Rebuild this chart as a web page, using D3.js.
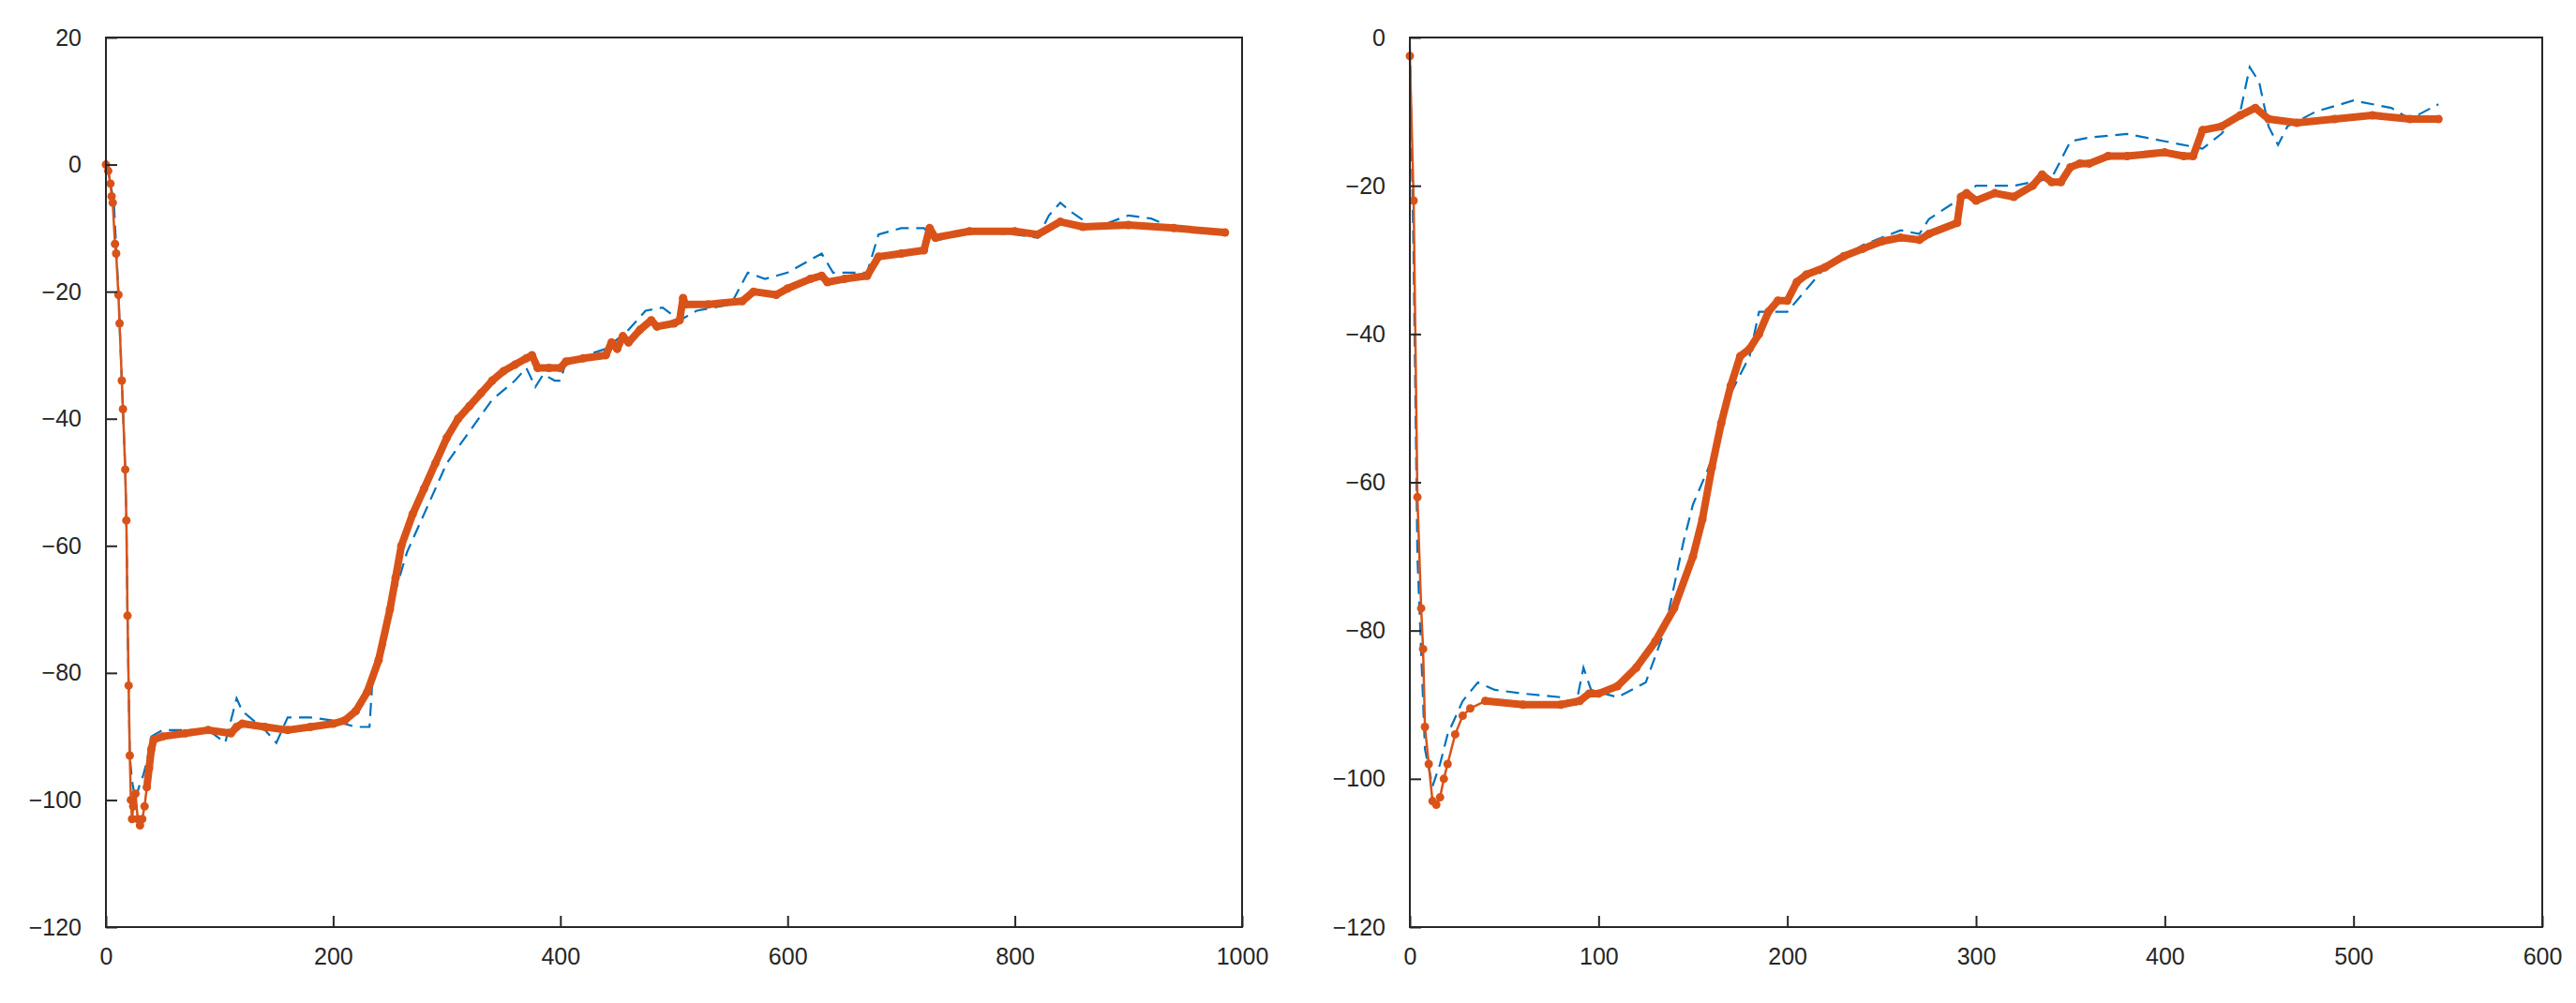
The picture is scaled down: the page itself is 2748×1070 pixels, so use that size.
<!DOCTYPE html>
<html>
<head>
<meta charset="utf-8">
<script src="https://cdn.jsdelivr.net/npm/d3@7"></script>
<style>
  body { margin: 0; background: #fff; }
  svg text { font-family: "Liberation Sans", Arial, sans-serif; }
</style>
</head>
<body>
<div id="chart"></div>
<script>
// left panel
const leftRef = [[0,0],[2,-1],[5,-4],[7,-6],[9,-13],[11,-20],[12,-25],[14,-34],[15,-38.5],[17,-48],[18,-56],[19,-71],[20,-82],[21,-93],[23,-97],[26,-100],[29,-98],[33,-96],[36,-94],[40,-90],[50,-89],[70,-89],[90,-89],[105,-91],[115,-84],[120,-86],[140,-89],[150,-91],[160,-87],[180,-87],[200,-87.5],[220,-88.5],[232,-88.5],[235,-80],[245,-76],[255,-67],[265,-61],[280,-55],[300,-47],[320,-42],[340,-37],[360,-34],[370,-32],[378,-35],[385,-33],[395,-34],[400,-34],[405,-31],[440,-29],[460,-26],[475,-23],[490,-22.5],[505,-24.5],[520,-23],[550,-22],[565,-17],[580,-18],[600,-17],[620,-15],[630,-14],[640,-17],[670,-17],[680,-11],[700,-10],[720,-10],[730,-12],[760,-10.5],[800,-11],[820,-11.5],[830,-8],[840,-6],[850,-7.5],[870,-10],[900,-8],[920,-8.5],[940,-10],[985,-10.5]];
const leftFit = [[0,0],[2,-1],[4,-3],[5,-5],[6,-6],[8,-12.5],[9,-14],[11,-20.5],[12,-25],[14,-34],[15,-38.5],[17,-48],[18,-56],[19,-71],[20,-82],[21,-93],[22,-100],[23,-103],[24,-101],[26,-99],[28,-103],[30,-104],[32,-103],[34,-101],[36,-98],[38,-95],[40,-92],[42,-90.5],[50,-90],[70,-89.5],[90,-89],[110,-89.5],[115,-88.5],[120,-88],[140,-88.5],[160,-89],[180,-88.5],[200,-88],[210,-87.5],[220,-86],[230,-83],[240,-78],[250,-70],[255,-65],[260,-60],[270,-55],[280,-51],[290,-47],[300,-43],[310,-40],[320,-38],[330,-36],[340,-34],[350,-32.5],[360,-31.5],[370,-30.5],[375,-30],[380,-32],[390,-32],[400,-32],[405,-31],[420,-30.5],[440,-30],[445,-28],[450,-29],[455,-27],[460,-28],[470,-26],[480,-24.5],[485,-25.5],[500,-25],[505,-24.5],[508,-21],[510,-22],[530,-22],[560,-21.5],[570,-20],[590,-20.5],[600,-19.5],[620,-18],[630,-17.5],[635,-18.5],[650,-18],[670,-17.5],[680,-14.5],[700,-14],[720,-13.5],[725,-10],[730,-11.5],[760,-10.5],[800,-10.5],[820,-11],[840,-9],[860,-9.8],[900,-9.5],[940,-10],[985,-10.7]];
const leftXTicks = [0, 200, 400, 600, 800, 1000];
const leftYTicks = [-120, -100, -80, -60, -40, -20, 0, 20];

// right panel
const rightRef = [[0,-1],[2,-30],[4,-70],[8,-96],[12,-101],[16,-98],[20,-94],[28,-89.5],[36,-87],[45,-88],[60,-88.5],[80,-89],[88,-90],[92,-85],[96,-88],[110,-89],[125,-87],[135,-80],[145,-68],[150,-63],[160,-57],[170,-48],[180,-43],[185,-37],[200,-37],[220,-31],[240,-28],[260,-26],[270,-26.5],[275,-24.5],[290,-22],[300,-20],[320,-20],[340,-19],[350,-14],[360,-13.5],[380,-13],[400,-14],[420,-15],[430,-13],[440,-10],[445,-4],[450,-6],[455,-12],[460,-14.5],[465,-12],[480,-10],[500,-8.5],[520,-9.5],[530,-11],[545,-9]];
const rightFit = [[0,-2.5],[2,-22],[4,-62],[6,-77],[7,-82.5],[8,-93],[10,-98],[12,-103],[14,-103.5],[16,-102.5],[18,-100],[20,-98],[24,-94],[28,-91.5],[32,-90.5],[40,-89.5],[60,-90],[80,-90],[90,-89.5],[95,-88.5],[100,-88.5],[110,-87.5],[120,-85],[130,-81.5],[140,-77],[150,-70],[155,-65],[160,-58],[165,-52],[170,-47],[175,-43],[180,-42],[185,-40],[190,-37],[195,-35.5],[200,-35.5],[205,-33],[210,-32],[220,-31],[230,-29.5],[240,-28.5],[250,-27.5],[260,-27],[270,-27.3],[275,-26.5],[290,-25],[292,-21.5],[295,-21],[300,-22],[310,-21],[320,-21.5],[330,-20],[335,-18.5],[340,-19.5],[345,-19.5],[350,-17.5],[355,-17],[360,-17],[370,-16],[380,-16],[400,-15.5],[410,-16],[415,-16],[420,-12.5],[430,-12],[440,-10.5],[448,-9.5],[455,-11],[470,-11.5],[490,-11],[510,-10.5],[530,-11],[545,-11]];
const rightXTicks = [0, 100, 200, 300, 400, 500, 600];
const rightYTicks = [-120, -100, -80, -60, -40, -20, 0];

const svg = d3.select("#chart").append("svg")
  .attr("width", 2748).attr("height", 1070);

function panel(left, width, xDom, yDom, xTicks, yTicks, ref, fit) {
  const top = 40, height = 949;
  const g = svg.append("g").attr("transform", `translate(${left},${top})`);
  const x = d3.scaleLinear().domain(xDom).range([0, width]);
  const y = d3.scaleLinear().domain(yDom).range([height, 0]);
  const line = d3.line().x(d => x(d[0])).y(d => y(d[1]));

  g.append("path").datum(ref)
    .attr("fill", "none").attr("stroke", "#0072BD")
    .attr("stroke-width", 2.2).attr("stroke-dasharray", "14,8")
    .attr("d", line);
  // thin segment in the steep start, thick elsewhere (dense markers)
  g.append("path").datum(fit)
    .attr("fill", "none").attr("stroke", "#D95319")
    .attr("stroke-width", 2.5).attr("d", line);
  g.append("path").datum(fit.filter(d => d[1] > -104 && d[0] > 35))
    .attr("fill", "none").attr("stroke", "#D95319")
    .attr("stroke-width", 8).attr("stroke-linecap", "round")
    .attr("stroke-linejoin", "round").attr("d", line);
  g.selectAll("circle.m").data(fit).enter().append("circle")
    .attr("cx", d => x(d[0])).attr("cy", d => y(d[1]))
    .attr("r", 4.5).attr("fill", "#D95319");

  const xa = g.append("g").attr("transform", `translate(0,${height})`)
    .call(d3.axisBottom(x).tickValues(xTicks).tickFormat(d3.format("d")).tickSize(-12).tickPadding(22));
  const ya = g.append("g")
    .call(d3.axisLeft(y).tickValues(yTicks).tickSize(-12).tickPadding(26));
  [xa, ya].forEach(a => {
    a.select(".domain").remove();
    a.selectAll("line").attr("stroke", "#262626").attr("stroke-width", 2);
    a.selectAll("text").attr("font-size", 25).attr("fill", "#262626")
      .style("font-family", "Liberation Sans, Arial, sans-serif");
  });
  g.append("rect").attr("width", width).attr("height", height)
    .attr("fill", "none").attr("stroke", "#262626").attr("stroke-width", 2);
}

panel(113, 1212, [0, 1000], [-120, 20], leftXTicks, leftYTicks, leftRef, leftFit);
panel(1504, 1208, [0, 600], [-120, 0], rightXTicks, rightYTicks, rightRef, rightFit);
</script>
</body>
</html>
